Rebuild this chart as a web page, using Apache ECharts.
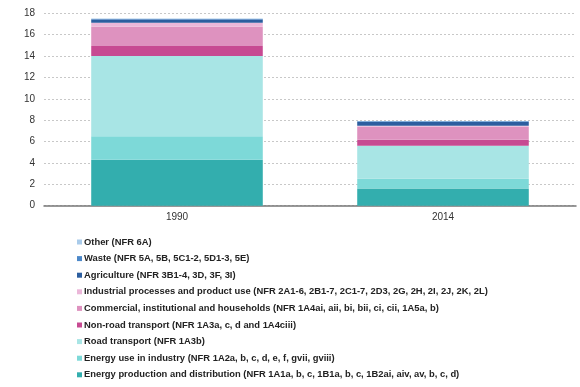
<!DOCTYPE html>
<html><head><meta charset="utf-8">
<script src="https://cdn.jsdelivr.net/npm/echarts@6/dist/echarts.min.js"></script>
<style>html,body{margin:0;padding:0;background:#fff}#c{width:580px;height:387px}</style>
</head><body><div id="c"></div>
<script>
var categories = ['1990', '2014'];
var seriesNames = [
  'Energy production and distribution (NFR 1A1a, b, c, 1B1a, b, c, 1B2ai, aiv, av, b, c, d)',
  'Energy use in industry (NFR 1A2a, b, c, d, e, f, gvii, gviii)',
  'Road transport (NFR 1A3b)',
  'Non-road transport (NFR 1A3a, c, d and 1A4ciii)',
  'Commercial, institutional and households (NFR 1A4ai, aii, bi, bii, ci, cii, 1A5a, b)',
  'Industrial processes and product use (NFR 2A1-6, 2B1-7, 2C1-7, 2D3, 2G, 2H, 2I, 2J, 2K, 2L)',
  'Agriculture (NFR 3B1-4, 3D, 3F, 3I)',
  'Waste (NFR 5A, 5B, 5C1-2, 5D1-3, 5E)',
  'Other (NFR 6A)'
];
var energyProduction = [4.3, 1.6];
var energyIndustry = [2.2, 0.93];
var roadTransport = [7.5, 3.08];
var nonRoadTransport = [0.95, 0.56];
var commercial = [1.8, 1.22];
var industrialProcesses = [0.37, 0.1];
var agriculture = [0.3, 0.35];
var waste = [0.05, 0.05];
var other = [0.05, 0.04];
var seriesValues = [energyProduction, energyIndustry, roadTransport, nonRoadTransport, commercial, industrialProcesses, agriculture, waste, other];
var colors = ['#33AEAE', '#7DD9D8', '#A8E5E5', '#C74A92', '#DE92BF', '#EBB7D9', '#2C5E9F', '#4C88C9', '#A9CBEA'];
var yTicks = [0, 2, 4, 6, 8, 10, 12, 14, 16, 18];

var chart = echarts.init(document.getElementById('c'), null, {renderer: 'canvas'});
chart.setOption({
  animation: false,
  color: colors,
  grid: {left: 44, right: 4, top: 13.3, bottom: 181.3, containLabel: false},
  legend: {
    orient: 'vertical', left: 72, top: 231, height: 160, padding: 5,
    data: seriesNames.slice().reverse(),
    icon: 'rect', itemWidth: 5, itemHeight: 5, itemGap: 4.6,
    textStyle: {fontFamily: 'Liberation Sans, Arial', fontSize: 9.4, fontWeight: 'bold', color: '#222', lineHeight: 12, padding: [0, 0, 0, -3]}
  },
  xAxis: {
    type: 'category', data: categories,
    axisLine: {lineStyle: {color: '#777', width: 1.5}},
    axisTick: {show: false},
    axisLabel: {fontFamily: 'Liberation Sans, Arial', fontSize: 10, color: '#333', margin: 7}
  },
  yAxis: {
    type: 'value', min: yTicks[0], max: yTicks[yTicks.length - 1], interval: 2,
    axisLine: {show: false}, axisTick: {show: false},
    axisLabel: {fontFamily: 'Liberation Sans, Arial', fontSize: 10, color: '#333', margin: 9},
    splitLine: {lineStyle: {color: '#c8c8c8', type: [2, 2]}}
  },
  series: seriesNames.map(function (n, i) {
    return {name: n, type: 'bar', stack: 'total', barWidth: '64.5%', data: seriesValues[i]};
  })
});
</script></body></html>
